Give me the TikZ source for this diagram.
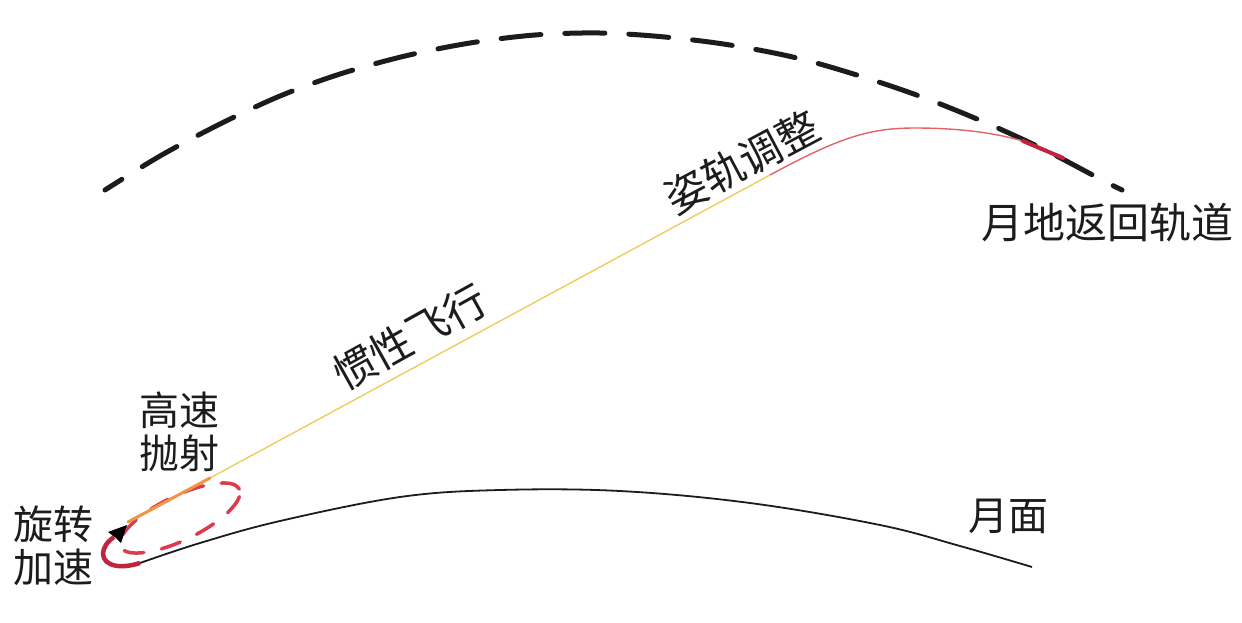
\documentclass[tikz,border=0pt]{standalone}
\usepackage{fontspec}
\newfontfamily\cjk{Noto Sans CJK SC}
\usetikzlibrary{arrows.meta,shapes.geometric}
\definecolor{ink}{RGB}{28,28,28}
\definecolor{traj}{RGB}{238,204,96}
\definecolor{launchcol}{RGB}{238,150,70}
\definecolor{adjust}{RGB}{226,100,100}
\definecolor{deepred}{RGB}{192,36,62}
\definecolor{orbitred}{RGB}{222,58,78}
\begin{document}
\begin{tikzpicture}[x=1pt,y=-1pt,
  lbl/.style={font=\cjk\fontsize{40}{43}\selectfont, text=ink, align=center, inner sep=0pt},
  rlbl/.style={font=\cjk\fontsize{42}{44}\selectfont, text=ink, inner sep=0pt},
  returnarc/.style={line width=5pt, draw=ink, dash pattern=on 40pt off 24pt, dash phase=20pt, line cap=round},
  spinorbit/.style={ellipse, draw=orbitred, line width=3.5pt, dash pattern=on 20pt off 18pt, line cap=round, minimum width=132pt, minimum height=44pt, inner sep=0pt},
  surfline/.style={line width=1.8pt, draw=ink},
  flight/.style={line width=1.4pt},
]
\useasboundingbox (0,0) rectangle (1242,622);
\fill[white] (0,0) rectangle (1242,622);

% return orbit (dashed)
\draw[returnarc] plot[smooth, tension=0.55] coordinates {(105,190) (160,156) (220,124) (280,96) (340,74) (405,56) (470,43) (535,35) (600,33) (665,37) (730,45) (797,58) (860,76) (922,97) (984,122) (1043,149) (1102,180) (1122,190)};

% spin ellipse
\node[spinorbit, rotate=26] (spin) at (180,518) {};

% key points
\coordinate (launch) at (140,563);
\coordinate (release) at (128,522);
\coordinate (p1) at (210,478);
\coordinate (p2) at (770,175);
\coordinate (peak) at (915,128);
\coordinate (join) at (1023,141);
\coordinate (merge) at (1063,158);
\coordinate (hookside) at (104,549);
\coordinate (hookbase) at (114,537);
\coordinate (hooktip) at (127,525);

% trajectory
\draw[flight, traj] (p1) -- (p2);
\draw[flight, adjust] (p2) .. controls (840,137) and (870,128) .. (peak) .. controls (960,128) and (995,133) .. (join);
\draw[line width=4pt, deepred, line cap=round] (join) -- (merge);
\draw[line width=3pt, launchcol, line cap=round] (release) -- (p1);

% lunar surface
\draw[surfline] plot[smooth, tension=0.6] coordinates {(launch) (200,543) (280,521) (400,497) (500,490) (620,491) (750,503) (880,525) (960,546) (1032,567)};

% spin-up hook with black arrowhead
\draw[line width=4.5pt, deepred] (launch) .. controls (115,571) and (99,563) .. (hookside) .. controls (106,543) and (110,540) .. (hookbase);
\fill[black] (hooktip) -- (121,543) -- (116,538) -- (108,532) -- cycle;

% labels
\node[lbl] (spinlbl) at (53,546) {旋转\\加速};
\node[lbl] (launchlbl) at (179,432) {高速\\抛射};
\node[rlbl, rotate=29] (inertia) at (410,337) {惯性飞行};
\node[rlbl, rotate=28] (attitude) at (742,162) {姿轨调整};
\node[rlbl] (returnlbl) at (1107,223) {月地返回轨道};
\node[lbl] (surface) at (1008,516) {月面};
\end{tikzpicture}
\end{document}
